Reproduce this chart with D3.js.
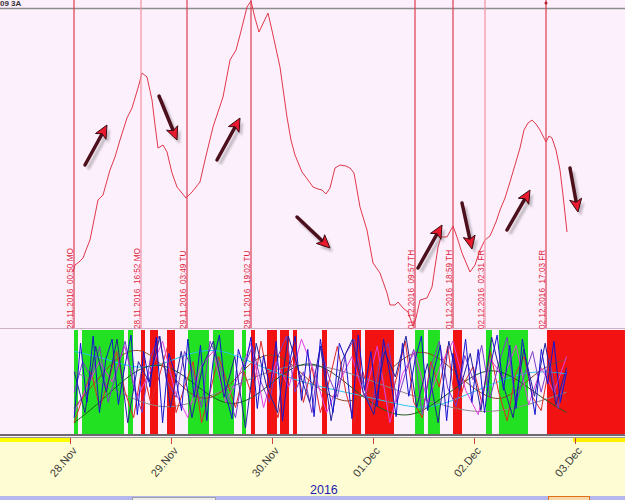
<!DOCTYPE html>
<html>
<head>
<meta charset="utf-8">
<script src="https://cdn.jsdelivr.net/npm/d3@7"></script>
<style>
  body { margin: 0; background: #fdf0fd; }
  svg { display: block; font-family: 'Liberation Sans', Arial, sans-serif; }
</style>
</head>
<body>
<div id="chart"></div>
<script>
// ---- data (hours counted from 28.11.2016 00:00 UTC) ----
var sessionStart = Date.UTC(2016, 10, 28);
var sessionEnd   = Date.UTC(2016, 11, 3);

var dayTicks  = ['2016-11-28', '2016-11-29', '2016-11-30', '2016-12-01', '2016-12-02', '2016-12-03'];
var yearLabel = '2016';

var priceHours  = [0.71, 1.19, 2.14, 3.09, 3.80, 4.75, 5.70, 6.65, 7.84, 9.50, 10.69, 11.88, 13.54, 14.73, 16.16, 17.11,
                   18.30, 19.49, 20.20, 20.91, 22.10, 23.05, 24.24, 25.43, 27.56, 28.99, 30.89, 32.08, 33.98, 36.36,
                   38.02, 39.45, 40.40, 42.06, 43.01, 43.96, 44.91, 47.05, 48.24, 49.90, 51.56, 52.51, 53.46, 55.13,
                   56.55, 57.74, 58.93, 59.88, 60.83, 61.78, 62.97, 64.16, 65.58, 66.53, 67.49, 68.91, 70.57, 72.00,
                   73.66, 75.33, 76.04, 77.23, 77.94, 79.13, 80.32, 81.50, 82.22, 83.17, 84.83, 86.02, 86.73, 87.45,
                   88.16, 89.58, 91.01, 91.96, 93.15, 95.05, 96.24, 97.43, 98.61, 99.80, 101.23, 102.18, 103.37,
                   104.55, 105.74, 106.93, 107.88, 108.83, 109.78, 110.73, 111.68, 113.11, 113.82, 114.53, 115.49,
                   116.44, 117.15, 118.10];
var priceValues = [55, 62, 65, 69, 77, 87, 107, 127, 132, 157, 170, 187, 209, 219, 239, 254,
                   250, 227, 202, 179, 182, 175, 154, 140, 129, 135, 145, 167, 200, 230,
                   267, 277, 292, 320, 326, 309, 295, 314, 292, 260, 210, 187, 172, 155,
                   147, 140, 138, 137, 133, 139, 159, 162, 161, 159, 154, 120, 97, 64,
                   54, 34, 22, 22, 25, 19, 15, 1, 9, 27, 29, 40, 60, 80,
                   90, 90, 101, 90, 74, 55, 62, 77, 87, 91, 105, 117, 129,
                   145, 162, 179, 197, 204, 207, 203, 197, 185, 191, 189, 177,
                   157, 132, 95];

var eventTimes  = ['2016-11-28T00:50Z', '2016-11-28T16:52Z', '2016-11-29T03:49Z', '2016-11-29T19:02Z',
                   '2016-12-01T09:57Z', '2016-12-01T18:59Z', '2016-12-02T02:31Z', '2016-12-02T17:03Z'];
var eventLabels = ['28.11.2016  00:50 MO', '28.11.2016  16:52 MO', '29.11.2016  03:49 TU', '29.11.2016  19:02 TU',
                   '01.12.2016  09:57 TH', '01.12.2016  18:59 TH', '02.12.2016  02:31 FR', '02.12.2016  17:03 FR'];

// arrows: [hour, value] tail -> tip
var arrowFrom = [[3.56, 162], [21.15, 231], [34.93, 167], [53.94, 110], [82.69, 59], [93.15, 124], [103.84, 97], [118.81, 159]];
var arrowTo   = [[8.79, 202], [25.43, 187], [40.40, 209], [61.78, 79], [88.40, 102], [95.52, 78], [109.31, 137], [120.71, 115]];

// trend bands in the lower pane
var bandStart = [0.95, 2.85, 13.78, 16.87, 19.01, 23.05, 28.04, 33.98, 40.87, 43.01, 46.81, 49.90, 52.99, 59.88,
                 67.01, 70.10, 81.98, 85.06, 91.01, 98.85, 101.93, 113.34];
var bandEnd   = [1.90, 12.83, 14.97, 17.82, 20.91, 24.95, 33.03, 38.97, 41.82, 43.96, 49.18, 52.04, 53.94, 61.07,
                 69.15, 76.99, 84.12, 87.91, 93.15, 100.27, 108.83, 131.87];
var bandTrend = ['up', 'up', 'up', 'down', 'down', 'down', 'up', 'up', 'up', 'down', 'down', 'down', 'down', 'down',
                 'down', 'down', 'up', 'up', 'down', 'up', 'up', 'down'];

// oscillators in the lower pane (0..100), evenly sampled from hour 1 to hour 118
var oscBlue    = [15, 88, 30, 95, 20, 72, 92, 28, 65, 96, 18, 80, 45, 94, 10, 78, 58, 22, 92, 35,
                  86, 12, 70, 96, 38, 14, 82, 62, 94, 24, 76, 44, 90, 12, 66, 95, 32, 82, 16, 92,
                  52, 20, 88, 72, 14, 96, 42, 80, 26, 92, 58, 16, 88, 36, 72, 95, 22, 62, 86, 12,
                  78, 46, 92, 30, 82, 20, 68, 96, 42, 86, 24, 92, 56, 18, 82, 48, 90, 30, 60];
var oscNavy    = [60, 20, 85, 40, 92, 10, 70, 50, 95, 25, 80, 15, 65, 90, 35, 75, 5, 88, 45, 20,
                  95, 60, 30, 85, 12, 70, 92, 40, 18, 80, 55, 95, 25, 68, 10, 90, 42, 78, 22, 94,
                  50, 15, 82, 36, 88, 28, 64];
var oscPurple  = [40, 70, 55, 85, 30, 60, 90, 45, 20, 75, 95, 50, 35, 80, 60, 25, 90, 70, 40, 15,
                  65, 85, 50, 30, 75, 95, 40, 60, 20, 85, 55, 35, 78, 92, 48, 22, 70, 88, 30, 58,
                  82, 18, 64, 90, 44, 26, 76, 52, 86, 34, 68, 94, 28, 56, 80, 40, 72, 24, 62];
var oscMagenta = [20, 45, 70, 50, 85, 35, 60, 90, 40, 15, 65, 80, 30, 55, 88, 25, 70, 45, 92, 60,
                  20, 50, 75, 35, 85, 10, 58, 80, 30, 66, 90, 42, 18, 72, 54, 86, 28, 64, 40, 75];
var oscRed     = [10, 35, 60, 25, 50, 80, 40, 15, 65, 30, 55, 85, 20, 45, 70, 10, 40, 75, 50, 25,
                  60, 35, 90, 45, 15, 55, 80, 30, 65, 20, 50, 85, 40, 10, 60, 35, 75, 25, 55, 90,
                  30, 15, 70, 45, 85, 20, 50, 65, 30, 80, 40, 12, 58, 75, 35, 22, 68, 48, 30];
var oscGreen   = [10, 30, 55, 70, 62, 40, 25, 35, 58, 72, 60, 38, 20, 15, 30, 50, 65, 55, 35, 20];
var oscBrown   = [25, 50, 75, 85, 70, 45, 30, 40, 65, 80, 72, 50, 35, 28, 45, 68, 82, 76, 55, 38, 30, 48, 66, 72];
var oscCyan    = [80, 72, 60, 75, 85, 70, 55, 45, 38, 30, 22, 35, 50, 62, 58];
var oscGray    = [60, 40, 20, 35, 55, 70, 62, 45, 30, 18, 25, 40];

// ---- chart ----
var width = 625, height = 500;
var paneBottom = 328;
var oscTop = 330, oscBottom = 434;
var axisTop = 437;

var up_color   = '#22e022';
var down_color = '#f21212';

function hoursToDate(h) { return new Date(sessionStart + h * 3600e3); }

var svg = d3.select('#chart').append('svg')
    .attr('width', width)
    .attr('height', height);

var defs = svg.append('defs');
defs.append('filter').attr('id', 'shadow')
    .append('feGaussianBlur').attr('stdDeviation', 1.2);
var clip = defs.append('clipPath').attr('id', 'osc-clip');
clip.append('rect').attr('x', 0).attr('y', oscTop).attr('width', width).attr('height', oscBottom - oscTop);

svg.append('rect').attr('width', width).attr('height', height).attr('fill', '#fdf0fd');

var x_scale = d3.scaleUtc()
    .domain([new Date(sessionStart), new Date(sessionEnd)])
    .range([70, 575]);

var y_price = d3.scaleLinear().domain([0, 327]).range([327, 0]);
var y_osc   = d3.scaleLinear().domain([0, 100]).range([oscBottom - 1, oscTop + 1]);

// top header (cut by the window edge like the terminal)
svg.append('text').attr('x', 0).attr('y', 6)
    .attr('font-size', 8).attr('font-weight', 'bold').attr('fill', '#333')
    .text('09 3A');
svg.append('line').attr('x1', 0).attr('x2', width).attr('y1', 8.5).attr('y2', 8.5)
    .attr('stroke', '#8c8c8c').attr('stroke-width', 1.5);

// trend bands
svg.append('g').selectAll('rect')
    .data(bandStart)
    .enter().append('rect')
    .attr('x', function(d) { return x_scale(hoursToDate(d)); })
    .attr('width', function(d, i) { return x_scale(hoursToDate(bandEnd[i])) - x_scale(hoursToDate(d)); })
    .attr('y', oscTop)
    .attr('height', oscBottom - oscTop)
    .attr('fill', function(d, i) { return bandTrend[i] === 'up' ? up_color : down_color; });

// oscillator lines
var oscSeries = [
    {values: oscGray,    color: '#8a8a8a'},
    {values: oscCyan,    color: '#28c8e8'},
    {values: oscGreen,   color: '#1d5a1d'},
    {values: oscBrown,   color: '#8a4a20'},
    {values: oscRed,     color: '#e02828'},
    {values: oscMagenta, color: '#e040e0'},
    {values: oscPurple,  color: '#7a3cc8'},
    {values: oscNavy,    color: '#20209a'},
    {values: oscBlue,    color: '#1414d0'}
];
var oscGroup = svg.append('g').attr('clip-path', 'url(#osc-clip)');
oscSeries.forEach(function(s) {
    var n = s.values.length;
    var line = d3.line()
        .x(function(d, i) { return x_scale(hoursToDate(1 + i * 117 / (n - 1))); })
        .y(function(d) { return y_osc(d); })
        .curve(s.values.length < 30 ? d3.curveBasis : d3.curveLinear);
    oscGroup.append('path')
        .datum(s.values)
        .attr('d', line)
        .attr('fill', 'none')
        .attr('stroke', s.color)
        .attr('stroke-width', 1);
});

// pane separators
svg.append('line').attr('x1', 0).attr('x2', width).attr('y1', paneBottom + 0.5).attr('y2', paneBottom + 0.5)
    .attr('stroke', '#c9b2c6');

// price line
var priceLine = d3.line()
    .x(function(d, i) { return x_scale(hoursToDate(priceHours[i])); })
    .y(function(d) { return y_price(d); });
svg.append('path')
    .datum(priceValues)
    .attr('d', priceLine)
    .attr('fill', 'none')
    .attr('stroke', '#e0384a')
    .attr('stroke-width', 1);

// event lines and labels
var lightLines = [1, 6];
var events = svg.append('g');
eventTimes.forEach(function(t, i) {
    var ex = Math.round(x_scale(new Date(t)));
    events.append('line')
        .attr('x1', ex).attr('x2', ex)
        .attr('y1', 0).attr('y2', paneBottom)
        .attr('stroke', lightLines.indexOf(i) >= 0 ? '#f490a0' : '#dc3c50')
        .attr('stroke-width', 1.2);
    events.append('text')
        .attr('transform', 'translate(' + (ex - 1.5) + ',' + (paneBottom + 1) + ') rotate(-90)')
        .attr('font-size', 8.2)
        .attr('fill', '#e0283a')
        .style('white-space', 'pre')
        .text(eventLabels[i]);
});
events.append('circle')
    .attr('cx', Math.round(x_scale(new Date(eventTimes[7]))))
    .attr('cy', 3).attr('r', 1.5).attr('fill', '#b02030');

// arrows
var arrows = svg.append('g');
arrowFrom.forEach(function(a, i) {
    var x0 = x_scale(hoursToDate(a[0])), y0 = y_price(a[1]);
    var x1 = x_scale(hoursToDate(arrowTo[i][0])), y1 = y_price(arrowTo[i][1]);
    var len = Math.hypot(x1 - x0, y1 - y0);
    var ux = (x1 - x0) / len, uy = (y1 - y0) / len;
    var nx = -uy, ny = ux;
    var headL = 13, headW = 6;
    var bx = x1 - ux * headL, by = y1 - uy * headL;
    var head = 'M' + x1 + ',' + y1 +
        'L' + (bx + nx * headW) + ',' + (by + ny * headW) +
        'L' + (bx + ux * 3) + ',' + (by + uy * 3) +
        'L' + (bx - nx * headW) + ',' + (by - ny * headW) + 'Z';
    var shaft = 'M' + x0 + ',' + y0 + 'L' + (bx + ux * 3) + ',' + (by + uy * 3);

    var shadow = arrows.append('g')
        .attr('transform', 'translate(3,4)')
        .attr('filter', 'url(#shadow)')
        .attr('opacity', 0.35);
    shadow.append('path').attr('d', shaft).attr('stroke', '#555').attr('stroke-width', 3.5).attr('fill', 'none');
    shadow.append('path').attr('d', head).attr('fill', '#555');

    arrows.append('path').attr('d', shaft)
        .attr('stroke', '#4c0f1c').attr('stroke-width', 3.5).attr('stroke-linecap', 'round').attr('fill', 'none');
    arrows.append('path').attr('d', head)
        .attr('fill', '#ea1a2e').attr('stroke', '#3a0a12').attr('stroke-width', 1);
});

// axis area
svg.append('rect').attr('x', 0).attr('y', axisTop).attr('width', width).attr('height', height - axisTop)
    .attr('fill', '#fefcd2');
svg.append('line').attr('x1', 0).attr('x2', width).attr('y1', oscBottom + 1).attr('y2', oscBottom + 1)
    .attr('stroke', '#3c3c3c').attr('stroke-width', 1.6);
svg.append('line').attr('x1', 0).attr('x2', width).attr('y1', axisTop + 0.5).attr('y2', axisTop + 0.5)
    .attr('stroke', '#9a9a9a');
svg.append('rect').attr('x', 0).attr('y', axisTop + 1).attr('width', x_scale(new Date(sessionStart))).attr('height', 4)
    .attr('fill', '#ffff00');
svg.append('rect').attr('x', 573).attr('y', axisTop + 1).attr('width', width - 573).attr('height', 4)
    .attr('fill', '#fff000');

var x_axis = d3.axisBottom(x_scale)
    .tickValues(dayTicks.map(function(d) { return new Date(d + 'T00:00Z'); }))
    .tickFormat(d3.utcFormat('%d.%b'))
    .tickSize(6);
var axis_g = svg.append('g')
    .attr('class', 'x-axis')
    .attr('transform', 'translate(0,' + (axisTop + 1) + ')')
    .call(x_axis);
axis_g.select('.domain').remove();
axis_g.selectAll('.tick line').attr('stroke', '#d04040');
axis_g.selectAll('.tick text')
    .attr('font-size', 11)
    .attr('font-family', "'Liberation Sans', Arial, sans-serif")
    .attr('fill', '#3a3a3a')
    .attr('text-anchor', 'end')
    .attr('y', 0).attr('dy', 0)
    .attr('transform', 'translate(7,13) rotate(-50)');

svg.append('text').attr('x', 310).attr('y', 494)
    .attr('font-size', 12.5).attr('fill', '#1c1cb0')
    .text(yearLabel);

// bottom strip
svg.append('rect').attr('x', 0).attr('y', 496).attr('width', width).attr('height', 4).attr('fill', '#b6b6ee');
svg.append('rect').attr('x', 132.5).attr('y', 497.5).attr('width', 83).attr('height', 4)
    .attr('fill', '#ececec').attr('stroke', '#a0a0a0');
svg.append('rect').attr('x', 548.5).attr('y', 496.5).attr('width', 41).attr('height', 5)
    .attr('fill', '#f8d8a8').attr('stroke', '#e07018');
</script>
</body>
</html>
